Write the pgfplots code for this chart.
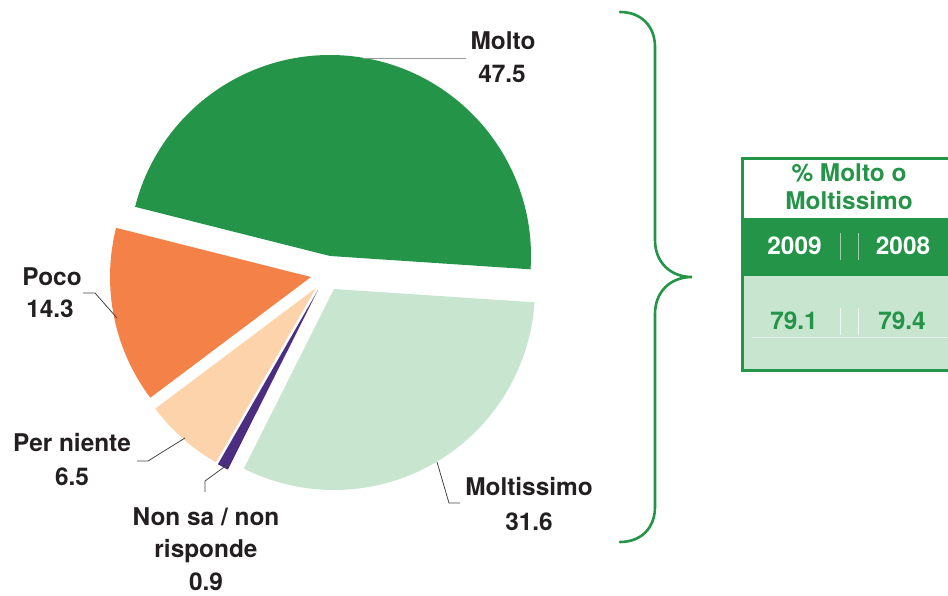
\documentclass[border=0pt]{standalone}
\usepackage{pgfplots}
\pgfplotsset{compat=1.18}
\usepackage{fontspec}
\setmainfont{TeX Gyre Heros}
\definecolor{cMolto}{RGB}{36,148,72}
\definecolor{cMoltissimo}{RGB}{200,229,208}
\definecolor{cPoco}{RGB}{244,129,72}
\definecolor{cNiente}{RGB}{252,211,170}
\definecolor{cNonsa}{RGB}{75,46,130}
\definecolor{cText}{RGB}{35,31,32}
\definecolor{cLead}{RGB}{70,70,70}
\newcommand\lab{\fontsize{24.4}{28}\selectfont\bfseries}
% data (percent)
\def\vMolto{47.5}
\def\vPoco{14.3}
\def\vNiente{6.5}
\def\vNonsa{0.9}
\def\vMoltissimo{31.6}
\def\fac{3.5714}
\pgfmathsetmacro\aA{-3.8}
\pgfmathsetmacro\aB{\aA+\vMolto*\fac}
\pgfmathsetmacro\aC{\aB+\vPoco*\fac}
\pgfmathsetmacro\aD{\aC+\vNiente*\fac}
\pgfmathsetmacro\aE{\aD+\vNonsa*\fac}
\pgfmathsetmacro\aF{\aE+\vMoltissimo*\fac}
\def\R{201}
\begin{document}
\begin{tikzpicture}
\begin{axis}[scale only axis, width=948pt, height=595pt,
  xmin=0, xmax=948, ymin=0, ymax=595, hide axis, clip=true]
% pie slices
\fill[cMolto] (axis cs:330,339) -- ++(\aA:\R) arc[start angle=\aA, end angle=\aB, radius=\R] -- cycle;
\fill[cPoco] (axis cs:311,318) -- ++(\aB:\R) arc[start angle=\aB, end angle=\aC, radius=\R] -- cycle;
\fill[cNiente] (axis cs:316,307) -- ++(\aC:\R) arc[start angle=\aC, end angle=\aD, radius=\R] -- cycle;
\fill[cNonsa] (axis cs:318,305) -- ++(\aD:\R) arc[start angle=\aD, end angle=\aE, radius=\R] -- cycle;
\fill[cMoltissimo] (axis cs:334,306) -- ++(\aE:\R) arc[start angle=\aE, end angle=\aF, radius=\R] -- cycle;
% leader lines
\draw[gray!80, line width=0.9pt] (axis cs:363,537) -- (axis cs:466,537);
\draw[cLead, line width=0.8pt] (axis cs:83,302) -- (axis cs:95,302) -- (axis cs:117,277);
\draw[cLead, line width=0.8pt] (axis cs:137,134) -- (axis cs:148,134) -- (axis cs:185,157);
\draw[cLead, line width=0.8pt] (axis cs:205,103) -- (axis cs:205,114) -- (axis cs:227,130);
\draw[cLead, line width=0.8pt] (axis cs:437,133) -- (axis cs:449,92) -- (axis cs:460,92);
% labels
\node[anchor=base, text=cText, font=\lab, inner sep=0pt] at (axis cs:503,545) {Molto};
\node[anchor=base, text=cText, font=\lab, inner sep=0pt] at (axis cs:502,512) {47.5};
\node[anchor=base, text=cText, font=\lab, inner sep=0pt] at (axis cs:52,309) {Poco};
\node[anchor=base, text=cText, font=\lab, inner sep=0pt] at (axis cs:50,277) {14.3};
\node[anchor=base, text=cText, font=\lab, inner sep=0pt] at (axis cs:72,143) {Per niente};
\node[anchor=base, text=cText, font=\lab, inner sep=0pt] at (axis cs:72,110) {6.5};
\node[anchor=base, text=cText, font=\lab, inner sep=0pt] at (axis cs:206,70) {Non sa / non};
\node[anchor=base, text=cText, font=\lab, inner sep=0pt] at (axis cs:206,38) {risponde};
\node[anchor=base, text=cText, font=\lab, inner sep=0pt] at (axis cs:206,5) {0.9};
\node[anchor=base, text=cText, font=\lab, inner sep=0pt] at (axis cs:529,100) {Moltissimo};
\node[anchor=base, text=cText, font=\lab, inner sep=0pt] at (axis cs:529,65) {31.6};
% brace
\draw[cMolto, line width=2.6pt, line cap=round]
  (axis cs:620,583) .. controls (axis cs:641,583) and (axis cs:655,569) .. (axis cs:655,548)
  -- (axis cs:655,355) .. controls (axis cs:655,333) and (axis cs:670,318) .. (axis cs:692,318)
  .. controls (axis cs:670,318) and (axis cs:655,303) .. (axis cs:655,281)
  -- (axis cs:655,88) .. controls (axis cs:655,67) and (axis cs:641,53) .. (axis cs:620,53);
% table box
\fill[cMolto] (axis cs:741,377) rectangle (axis cs:970,319);
\fill[cMoltissimo] (axis cs:741,319) rectangle (axis cs:970,225);
\draw[white!55!cMolto, line width=0.6pt] (axis cs:840,362) -- (axis cs:840,335);
\draw[white!55!cMolto, line width=0.6pt] (axis cs:858,362) -- (axis cs:858,335);
\draw[white!70!cMoltissimo, line width=0.6pt] (axis cs:840,287) -- (axis cs:840,260);
\draw[white!70!cMoltissimo, line width=0.6pt] (axis cs:858,287) -- (axis cs:858,260);
\draw[white!50!cMoltissimo, line width=0.4pt] (axis cs:752,258) -- (axis cs:948,258);
\draw[cMolto, line width=3pt] (axis cs:742.5,436.5) rectangle (axis cs:975,224.5);
\node[anchor=base, text=cMolto, font=\lab, inner sep=0pt] at (axis cs:849,413) {\% Molto o};
\node[anchor=base, text=cMolto, font=\lab, inner sep=0pt] at (axis cs:849,385) {Moltissimo};
\node[anchor=base, text=white, font=\lab, inner sep=0pt] at (axis cs:794.5,340) {2009};
\node[anchor=base, text=white, font=\lab, inner sep=0pt] at (axis cs:903,340) {2008};
\node[anchor=base, text=cMolto, font=\lab, inner sep=0pt] at (axis cs:794,265) {79.1};
\node[anchor=base, text=cMolto, font=\lab, inner sep=0pt] at (axis cs:902,265) {79.4};
\end{axis}
\pgfresetboundingbox
\useasboundingbox (current axis.south west) rectangle (current axis.north east);
\end{tikzpicture}
\end{document}
